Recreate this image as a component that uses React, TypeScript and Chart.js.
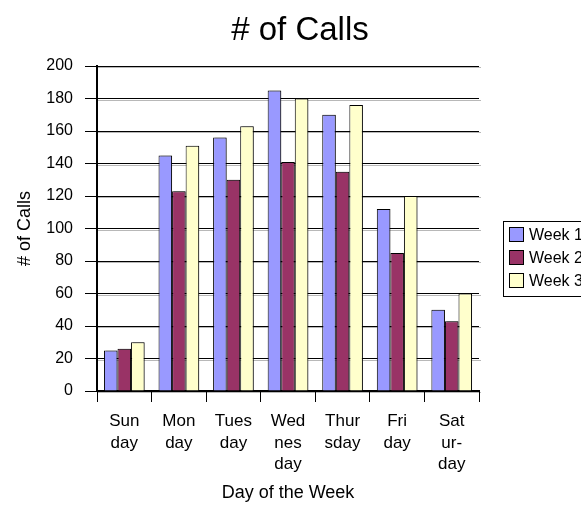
import React, { useEffect, useRef } from 'react';
import { Chart, registerables } from 'chart.js';

Chart.register(...registerables);

const chartTitle = '# of Calls';
const xAxisTitle = 'Day of the Week';
const yAxisTitle = '# of Calls';
const categories: string[][] = [
  ['Sun', 'day'],
  ['Mon', 'day'],
  ['Tues', 'day'],
  ['Wed', 'nes', 'day'],
  ['Thur', 'sday'],
  ['Fri', 'day'],
  ['Sat', 'ur-', 'day'],
];
const seriesNames = ['Week 1', 'Week 2', 'Week 3'];
const week1 = [25, 145, 156, 185, 170, 112, 50];
const week2 = [26, 123, 130, 141, 135, 85, 43];
const week3 = [30, 151, 163, 180, 176, 120, 60];
const seriesColors = ['#9999FF', '#993366', '#FFFFCC'];
const yMin = 0;
const yMax = 200;
const yStep = 20;

const FONT = "'Liberation Sans', Arial, Helvetica, sans-serif";

const decorPlugin = {
  id: 'decor',
  beforeDatasetsDraw(chart: any) {
    const { ctx, chartArea, scales } = chart;
    const y = scales.y;
    ctx.save();
    ctx.strokeStyle = 'rgba(0,0,0,0.28)';
    ctx.lineWidth = 1;
    y.ticks.forEach((_t: any, i: number) => {
      const py = Math.round(y.getPixelForTick(i)) + 1.5;
      ctx.beginPath();
      ctx.moveTo(chartArea.left + 1, py);
      ctx.lineTo(chartArea.right + 2, py);
      ctx.stroke();
    });
    ctx.restore();
    ctx.save();
    ctx.shadowColor = 'rgba(0,0,0,0.3)';
    ctx.shadowOffsetX = 2;
    ctx.shadowOffsetY = 0;
    ctx.shadowBlur = 0;
  },
  afterDatasetsDraw(chart: any) {
    chart.ctx.restore();
  },
  afterDraw(chart: any) {
    const { ctx } = chart;
    ctx.save();
    // title
    ctx.fillStyle = '#000';
    ctx.font = `33px ${FONT}`;
    ctx.textAlign = 'center';
    ctx.textBaseline = 'middle';
    ctx.fillText(chartTitle, 300, 31);
    // legend
    const bx = 503.5;
    const by = 221.5;
    ctx.strokeStyle = '#000';
    ctx.lineWidth = 1;
    ctx.fillStyle = '#fff';
    ctx.fillRect(bx, by, 110, 75);
    ctx.strokeRect(bx, by, 110, 75);
    ctx.font = `16px ${FONT}`;
    ctx.textAlign = 'left';
    chart.data.datasets.forEach((ds: any, i: number) => {
      const cy = 235 + i * 23;
      ctx.fillStyle = ds.backgroundColor;
      ctx.fillRect(509.5, cy - 7.5, 14, 14);
      ctx.strokeStyle = '#000';
      ctx.strokeRect(509.5, cy - 7.5, 14, 14);
      ctx.fillStyle = '#000';
      ctx.fillText(ds.label, 529, cy + 1);
    });
    ctx.restore();
  },
};

export default function App() {
  const canvasRef = useRef<HTMLCanvasElement | null>(null);

  useEffect(() => {
    if (!canvasRef.current) return;
    Chart.defaults.font.family = FONT;
    Chart.defaults.color = '#000';
    const seriesData = [week1, week2, week3];
    const chart = new Chart(canvasRef.current, {
      type: 'bar',
      data: {
        labels: categories,
        datasets: seriesNames.map((name, i) => ({
          label: name,
          data: seriesData[i],
          backgroundColor: seriesColors[i],
          borderColor: '#000',
          borderWidth: 1,
          categoryPercentage: 0.745,
          barPercentage: 1,
        })),
      },
      options: {
        responsive: false,
        animation: false,
        layout: { padding: { top: 66, right: 102, left: 0, bottom: 0 } },
        plugins: {
          legend: { display: false },
          title: { display: false },
          tooltip: { enabled: false },
        },
        scales: {
          x: {
            grid: {
              display: true,
              drawOnChartArea: false,
              drawTicks: true,
              tickLength: 11,
              color: '#000',
              offset: true,
            },
            border: { display: true, color: '#000', width: 2 },
            ticks: {
              font: { size: 17, lineHeight: 1.25 },
              color: '#000',
              padding: 9,
              maxRotation: 0,
              autoSkip: false,
            },
            title: {
              display: true,
              text: xAxisTitle,
              font: { size: 18 },
              color: '#000',
              padding: { top: 0, bottom: 2 },
            },
            afterFit(scale: any) {
              scale.height = 115;
            },
          },
          y: {
            min: yMin,
            max: yMax,
            ticks: {
              stepSize: yStep,
              font: { size: 16 },
              color: '#000',
              padding: 12,
            },
            grid: {
              color: '#000',
              lineWidth: 1,
              tickLength: 12,
              drawTicks: true,
            },
            border: { display: true, color: '#000', width: 2 },
            title: {
              display: true,
              text: yAxisTitle,
              font: { size: 18 },
              color: '#000',
              padding: { top: 14, bottom: 0 },
            },
            afterFit(scale: any) {
              scale.width = 97;
            },
          },
        },
      },
      plugins: [decorPlugin],
    });
    return () => chart.destroy();
  }, []);

  return (
    <div style={{ position: 'absolute', left: 0, top: 0, width: 581, height: 506, background: '#fff' }}>
      <canvas ref={canvasRef} width={581} height={506} style={{ display: 'block' }} />
    </div>
  );
}
